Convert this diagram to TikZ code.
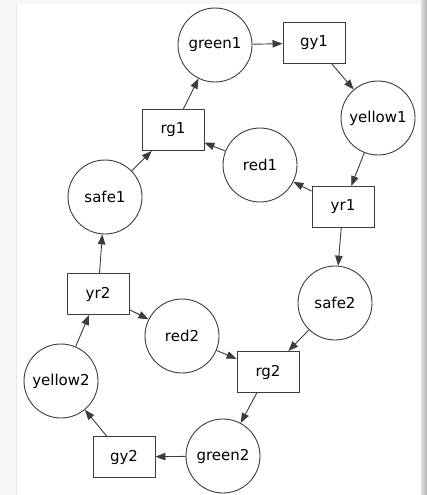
\documentclass[tikz,border=0pt]{standalone}
\usepackage{fontspec}
\setmainfont{DejaVu Sans}
\usetikzlibrary{
  arrows.meta,
  positioning,
}
\definecolor{edgeGray}{HTML}{3C3C3C}
\tikzset{
  placeNode/.style={
    circle, draw=edgeGray, line width=0.9pt, minimum size=74pt,
    inner sep=0pt, font=\fontsize{15}{18}\selectfont,
  },
  transBox/.style={
    rectangle, draw=edgeGray, line width=0.9pt, minimum width=62pt,
    minimum height=41pt, inner sep=0pt, font=\fontsize{15}{18}\selectfont,
  },
  arrowMed/.style={
    -{Triangle[length=10pt,width=7.5pt]}, line width=0.9pt, draw=edgeGray,
  },
}

\begin{document}
\begin{tikzpicture}[x=1pt,y=-1pt]
% frame with shadow
\useasboundingbox (0,0) rectangle (427,495);
\fill[gray!7] (0,0) rectangle (427,495);
\shade[left color=gray!25, right color=gray!60] (421,0) rectangle (427,495);
\fill[white] (17,4) rectangle (421,495);
\draw[gray!18, line width=0.6pt] (16,4) -- (16,495);

% places
\node[placeNode] (green1)  at (215,45)  {green1};
\node[placeNode] (yellow1) at (378,118) {yellow1};
\node[placeNode] (red1)    at (260,165) {red1};
\node[placeNode] (safe1)   at (105,197) {safe1};
\node[placeNode] (safe2)   at (335,303) {safe2};
\node[placeNode] (red2)    at (182,336) {red2};
\node[placeNode] (yellow2) at (61,381)  {yellow2};
\node[placeNode] (green2)  at (223,456) {green2};

% transitions
\node[transBox] (gy1) at (314,43)  {gy1};
\node[transBox] (rg1) at (173,130) {rg1};
\node[transBox] (yr1) at (343,207) {yr1};
\node[transBox] (yr2) at (98,294)  {yr2};
\node[transBox] (rg2) at (268,372) {rg2};
\node[transBox] (gy2) at (124,457) {gy2};

% arcs
\draw[arrowMed] (green1) -- (gy1);
\draw[arrowMed] (gy1) -- (yellow1);
\draw[arrowMed] (yellow1) -- (yr1);
\draw[arrowMed] (yr1) -- (red1);
\draw[arrowMed] (yr1) -- (safe2);
\draw[arrowMed] (red1) -- (rg1);
\draw[arrowMed] (rg1) -- (green1);
\draw[arrowMed] (safe1) -- (rg1);
\draw[arrowMed] (yr2) -- (safe1);
\draw[arrowMed] (yr2) -- (red2);
\draw[arrowMed] (red2) -- (rg2);
\draw[arrowMed] (safe2) -- (rg2);
\draw[arrowMed] (rg2) -- (green2);
\draw[arrowMed] (green2) -- (gy2);
\draw[arrowMed] (gy2) -- (yellow2);
\draw[arrowMed] (yellow2) -- (yr2);
\end{tikzpicture}
\end{document}
